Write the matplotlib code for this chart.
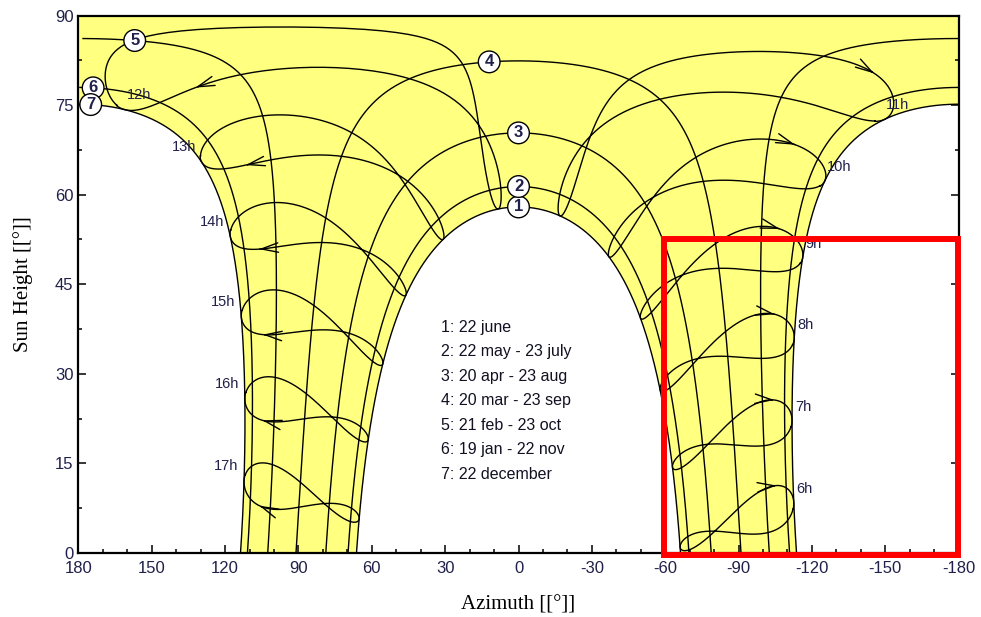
import numpy as np
import matplotlib
matplotlib.use('Agg')
import matplotlib.pyplot as plt
from matplotlib.patches import Rectangle, Polygon
from matplotlib.ticker import MultipleLocator

plt.rcParams['axes.unicode_minus'] = False

# site values (noon height 58 deg on 22 june, 75 deg on 22 december)
latitude = -8.6
clock_shift_min = 21.0      # clock runs ahead of local mean solar time

# date curves (day of year of the later date of each pair)
curve_names = ["22 june", "22 may - 23 july", "20 apr - 23 aug", "20 mar - 23 sep",
               "21 feb - 23 oct", "19 jan - 22 nov", "22 december"]
curve_days = [173, 204, 235, 266, 296, 326, 356]
curve_label_az = [0, 0, 0, 12, 157, 174, 175]

# hour lines
hours = [6, 7, 8, 9, 10, 11, 12, 13, 14, 15, 16, 17]
hour_names = ["6h", "7h", "8h", "9h", "10h", "11h", "12h", "13h", "14h", "15h", "16h", "17h"]
arrow_day = 310

# marked area (red frame)
box_az = [-59.5, -179.6]
box_alt = [-0.3, 52.5]

YELLOW = '#FFFF80'
TXT = '#20204a'


def declination(day):
    return 23.45 * np.sin(np.radians(360.0 * (284 + np.asarray(day)) / 365.0))


def equation_of_time(day):
    b = np.radians(360.0 * (np.asarray(day) - 81) / 364.0)
    return 9.87 * np.sin(2 * b) - 7.53 * np.cos(b) - 1.5 * np.sin(b)


def sun_position(dec, hour_angle):
    lat = np.radians(latitude)
    d = np.radians(dec)
    h = np.radians(hour_angle)
    alt = np.degrees(np.arcsin(np.sin(lat) * np.sin(d) + np.cos(lat) * np.cos(d) * np.cos(h)))
    az_s = np.degrees(np.arctan2(np.sin(h), np.cos(h) * np.sin(lat) - np.tan(d) * np.cos(lat)))
    az = 180.0 - az_s
    az = (az + 180.0) % 360.0 - 180.0
    return az, alt


def split_runs(az, alt, jump=90):
    # cut a path where it wraps round +-180 or goes below the horizon
    runs = []
    cur_x, cur_y = [], []
    for i in range(len(az)):
        if np.isnan(alt[i]):
            if len(cur_x) > 1:
                runs.append((cur_x, cur_y))
            cur_x, cur_y = [], []
            continue
        if cur_x and abs(az[i] - cur_x[-1]) > jump:
            if len(cur_x) > 1:
                runs.append((cur_x, cur_y))
            cur_x, cur_y = [], []
        cur_x.append(az[i])
        cur_y.append(alt[i])
    if len(cur_x) > 1:
        runs.append((cur_x, cur_y))
    return runs


def day_path(day):
    dec = declination(day)
    lat = np.radians(latitude)
    h0 = np.degrees(np.arccos(-np.tan(lat) * np.tan(np.radians(dec))))
    ha = np.linspace(-h0, h0, 1441)
    az, alt = sun_position(dec, ha)
    alt = np.clip(alt, 0, None)
    return az, alt


def hour_path(hour, days):
    dec = declination(days)
    solar = hour + (clock_shift_min + equation_of_time(days)) / 60.0
    az, alt = sun_position(dec, 15.0 * (solar - 12.0))
    alt = np.where(alt < 0, np.nan, alt)
    return az, alt


fig = plt.figure(figsize=(9.81, 6.17), dpi=100)
ax = fig.add_axes([0.0800, 0.1037, 0.8971, 0.8711])
ax.set_xlim(180, -180)
ax.set_ylim(0, 90)

# yellow area: everything the sun reaches, bounded by 22 june and 22 december
az1, alt1 = day_path(curve_days[0])
az7, alt7 = day_path(curve_days[6])
noon = len(az7) // 2
morning7 = (az7[:noon + 1], alt7[:noon + 1])
afternoon7 = (az7[noon + 1:], alt7[noon + 1:])
verts = [(180, 90), (180, afternoon7[1][0])]
verts += list(zip(afternoon7[0], afternoon7[1]))
verts += list(zip(az1[::-1], alt1[::-1]))
verts += list(zip(morning7[0], morning7[1]))
verts += [(-180, morning7[1][-1]), (-180, 90)]
ax.add_patch(Polygon(verts, closed=True, fc=YELLOW, ec='none', zorder=1))

# date curves
for i, day in enumerate(curve_days):
    az, alt = day_path(day)
    for xs, ys in split_runs(az, alt):
        ax.plot(xs, ys, color='black', lw=1.0, zorder=3)

# hour lines (analemmas)
days = np.append(np.arange(1, 366), 1)
for hour in hours:
    az, alt = hour_path(hour, days)
    for xs, ys in split_runs(az, alt):
        ax.plot(xs, ys, color='black', lw=1.0, zorder=3)
    a0, b0 = hour_path(hour, np.array([arrow_day - 3]))
    a1, b1 = hour_path(hour, np.array([arrow_day]))
    if not (np.isnan(b0[0]) or np.isnan(b1[0])) and abs(a1[0] - a0[0]) < 20:
        ax.annotate('', xy=(a1[0], b1[0]), xytext=(a0[0], b0[0]),
                    arrowprops=dict(arrowstyle='->,head_length=0.6,head_width=0.17',
                                    color='black', lw=1.0, mutation_scale=20),
                    zorder=4)

# hour names above the 22 december point
for hour, name in zip(hours, hour_names):
    a, b = hour_path(hour, np.array([curve_days[6]]))
    if hour <= 12:
        ax.annotate(name, (a[0], b[0]), xytext=(2, 10.5), textcoords='offset points',
                    ha='left', va='center', fontsize=10.5, color=TXT,
                    family='Liberation Sans', zorder=5)
    else:
        ax.annotate(name, (a[0], b[0]), xytext=(-4, 10.5), textcoords='offset points',
                    ha='right', va='center', fontsize=10.5, color=TXT,
                    family='Liberation Sans', zorder=5)

# circled curve numbers
for i, day in enumerate(curve_days):
    az, alt = day_path(day)
    half = len(az) // 2
    if curve_label_az[i] >= 0:
        xs, ys = az[half:], alt[half:]
    else:
        xs, ys = az[:half], alt[:half]
    order = np.argsort(xs)
    y = np.interp(curve_label_az[i], xs[order], ys[order])
    ax.text(curve_label_az[i], y, str(i + 1), ha='center', va='center', fontsize=12,
            fontweight='bold', color=TXT, family='Liberation Sans', zorder=6,
            bbox=dict(boxstyle='circle,pad=0.2', fc='white', ec='black', lw=1.0))

# date list
for i, name in enumerate(curve_names):
    ax.text(0.412, 0.4205 - i * 0.0457, "%d: %s" % (i + 1, name), transform=ax.transAxes,
            ha='left', va='center', fontsize=11.5, color='#111122', family='Liberation Sans',
            zorder=6)

ax.add_patch(Rectangle((box_az[0], box_alt[0]), box_az[1] - box_az[0], box_alt[1] - box_alt[0],
                       fill=False, ec='#FF0000', lw=4.3, zorder=8, clip_on=False))

ax.xaxis.set_major_locator(MultipleLocator(30))
ax.xaxis.set_minor_locator(MultipleLocator(10))
ax.yaxis.set_major_locator(MultipleLocator(15))
ax.yaxis.set_minor_locator(MultipleLocator(7.5))
ax.tick_params(which='both', direction='in', left=True, right=True, top=False, bottom=True,
               width=1.1, colors='black', labelcolor=TXT, labelsize=12, zorder=7)
ax.tick_params(which='major', length=5.5)
ax.tick_params(which='minor', length=3.2)
ax.tick_params(axis='x', which='major', pad=6)
for lab in ax.get_xticklabels() + ax.get_yticklabels():
    lab.set_family('Liberation Sans')
for s in ax.spines.values():
    s.set_linewidth(1.6)
    s.set_zorder(7)

ax.set_xlabel("Azimuth [[°]]", family='Liberation Serif', fontsize=15, labelpad=14)
ax.set_ylabel("Sun Height [[°]]", family='Liberation Serif', fontsize=15, labelpad=16)

fig.savefig("out.png", dpi=100)
